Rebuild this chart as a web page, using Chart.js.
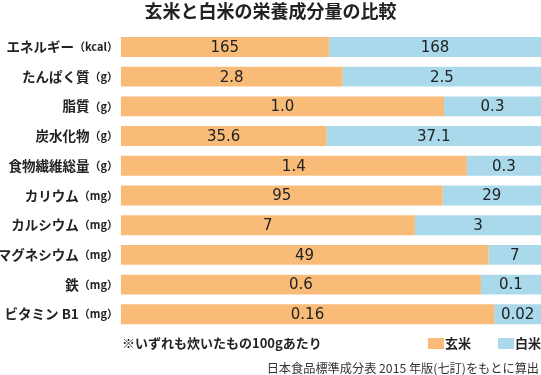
<!DOCTYPE html>
<html>
<head>
<meta charset="utf-8">
<script src="https://cdn.jsdelivr.net/npm/chart.js@4.4.1/dist/chart.umd.min.js"></script>
<style>
  html, body { margin: 0; padding: 0; background: #fff; }
  #wrap { width: 541px; height: 375px; position: relative; }
</style>
</head>
<body>
<div id="wrap"><canvas id="c" width="541" height="375"></canvas></div>
<script>
// ---- data ----
const categories = ['エネルギー', 'たんぱく質', '脂質', '炭水化物', '食物繊維総量', 'カリウム', 'カルシウム', 'マグネシウム', '鉄', 'ビタミン B1'];
const units = ['（kcal）', '（g）', '（g）', '（g）', '（g）', '（mg）', '（mg）', '（mg）', '（mg）', '（mg）'];
const brownRice = [165, 2.8, 1.0, 35.6, 1.4, 95, 7, 49, 0.6, 0.16];
const whiteRice = [168, 2.5, 0.3, 37.1, 0.3, 29, 3, 7, 0.1, 0.02];
const decimals = [0, 1, 1, 1, 1, 0, 0, 0, 1, 2];
const seriesNames = ['玄米', '白米'];
const titleText = '玄米と白米の栄養成分量の比較';
const noteText = '※いずれも炊いたもの100gあたり';
const sourceText = '日本食品標準成分表 2015 年版(七訂)をもとに算出';

const BROWN = '#F8BC78';
const BLUE = '#A9D9EB';
const JP = '"Noto Sans CJK JP", "Noto Sans", sans-serif';

const brownShare = brownRice.map((b, i) => b / (b + whiteRice[i]) * 100);
const whiteShare = whiteRice.map((w, i) => w / (brownRice[i] + w) * 100);
const rawValues = [brownRice, whiteRice];

const overlayPlugin = {
  id: 'overlay',
  afterDatasetsDraw(chart) {
    const ctx = chart.ctx;
    const yScale = chart.scales.y;
    ctx.save();
    // value labels
    ctx.fillStyle = '#222';
    ctx.font = '15px "DejaVu Sans", sans-serif';
    ctx.textAlign = 'center';
    ctx.textBaseline = 'middle';
    chart.data.datasets.forEach((ds, di) => {
      const meta = chart.getDatasetMeta(di);
      meta.data.forEach((el, i) => {
        const cx = (el.x + el.base) / 2;
        ctx.fillText(rawValues[di][i].toFixed(decimals[i]), cx, el.y + 1);
      });
    });
    // category labels (main + unit)
    ctx.textAlign = 'right';
    categories.forEach((name, i) => {
      const y = yScale.getPixelForValue(i);
      ctx.font = 'bold 11px ' + JP;
      const uw = ctx.measureText(units[i]).width;
      const rightX = 118;
      ctx.fillText(units[i], rightX, y);
      ctx.font = 'bold 13.5px ' + JP;
      ctx.fillText(name, rightX - uw, y);
    });
    // note
    ctx.textAlign = 'left';
    ctx.font = 'bold 13px ' + JP;
    ctx.fillText(noteText, 122, 343);
    // legend
    const legend = [[BROWN, seriesNames[0], 428], [BLUE, seriesNames[1], 498]];
    legend.forEach(([col, txt, x]) => {
      ctx.fillStyle = col;
      ctx.fillRect(x, 338, 16, 11);
      ctx.fillStyle = '#222';
      ctx.font = 'bold 13px ' + JP;
      ctx.fillText(txt, x + 17, 343);
    });
    // source
    ctx.textAlign = 'right';
    ctx.fillStyle = '#333';
    ctx.font = '12.2px ' + JP;
    ctx.fillText(sourceText, 539, 368);
    ctx.restore();
  }
};

new Chart(document.getElementById('c'), {
  type: 'bar',
  data: {
    labels: categories,
    datasets: [
      { label: seriesNames[0], data: brownShare, backgroundColor: BROWN, borderWidth: 0 },
      { label: seriesNames[1], data: whiteShare, backgroundColor: BLUE, borderWidth: 0 }
    ]
  },
  options: {
    indexAxis: 'y',
    responsive: false,
    animation: false,
    devicePixelRatio: 1,
    layout: { padding: { left: 0, right: 0, top: 0, bottom: 45.85 } },
    datasets: { bar: { barPercentage: 0.67, categoryPercentage: 1 } },
    scales: {
      x: { stacked: true, min: 0, max: 100, display: false },
      y: {
        stacked: true,
        display: true,
        ticks: { display: false },
        grid: { display: false },
        border: { display: false },
        afterFit(scale) { scale.width = 120.7; }
      }
    },
    plugins: {
      legend: { display: false },
      tooltip: { enabled: false },
      title: {
        display: true,
        text: titleText,
        color: '#222',
        font: { family: JP, size: 18, weight: 'bold' },
        padding: { top: 0, bottom: 10.5 }
      }
    }
  },
  plugins: [overlayPlugin]
});
</script>
</body>
</html>
